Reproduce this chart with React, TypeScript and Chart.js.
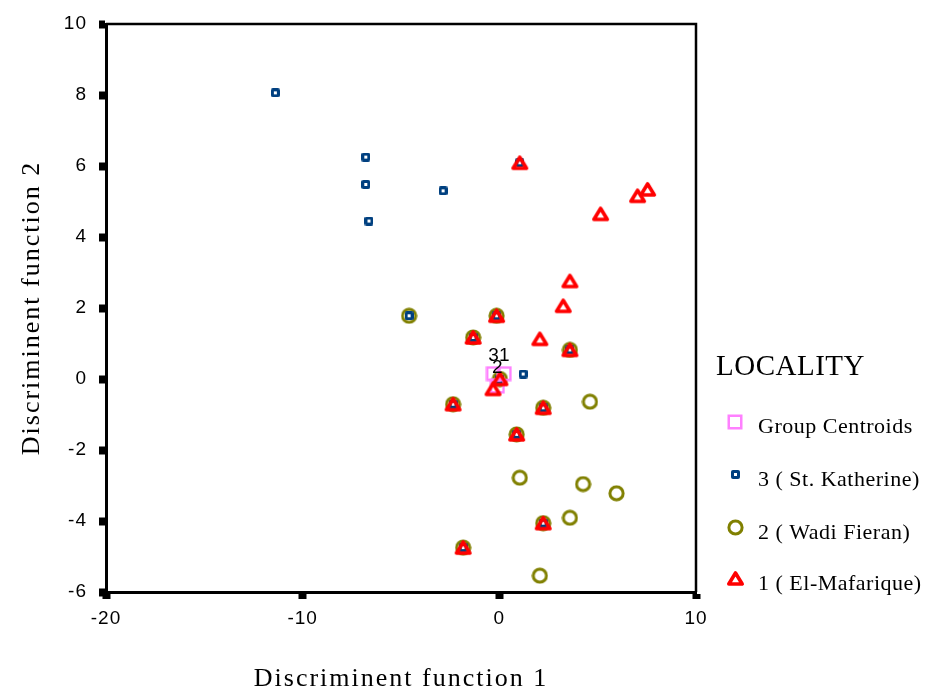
import React, { useEffect, useRef } from "react";
import { Chart, registerables } from "chart.js";

Chart.register(...registerables);

// ---- Data ----
const centroidX = [-0.3, -0.1, 0.25];
const centroidY = [0.15, -0.2, 0.15];
const centroidLabels = ["3", "2", "1"];

// 3 ( St. Katherine)
const g3X = [-11.39, -6.79, -6.79, -2.86, -6.63, -4.59, 1.21, 1.04, -0.14, -1.33, 3.59, 0.03, -2.35, 2.23, 0.88, 2.23, -1.84];
const g3Y = [8.06, 6.25, 5.48, 5.3, 4.45, 1.78, 0.14, 6.09, 1.78, 1.17, 0.82, 0.0, -0.71, -0.81, -1.56, -4.06, -4.75];

// 2 ( Wadi Fieran)
const g2X = [-4.59, -0.14, -1.33, 3.59, 0.03, -2.35, 2.23, 0.88, 2.23, -1.84, 4.61, 1.04, 4.26, 5.96, 3.59, 2.06];
const g2Y = [1.78, 1.78, 1.17, 0.82, 0.0, -0.71, -0.81, -1.56, -4.06, -4.75, -0.64, -2.78, -2.96, -3.22, -3.91, -5.54];

// 1 ( El-Mafarique)
const g1X = [-0.14, -1.33, 3.59, 0.03, -2.35, 2.23, 0.88, 2.23, -1.84, 1.04, 7.54, 7.03, 5.15, 3.59, 3.25, 2.06, -0.32];
const g1Y = [1.78, 1.17, 0.82, 0.0, -0.71, -0.81, -1.56, -4.06, -4.75, 6.09, 5.34, 5.16, 4.65, 2.76, 2.06, 1.13, -0.28];

const seriesLabels = ["Group Centroids", "3 ( St. Katherine)", "2 ( Wadi Fieran)", "1 ( El-Mafarique)"];
const legendTitle = "LOCALITY";
const xTitle = "Discriminent function 1";
const yTitle = "Discriminent function 2";
const xMin = -20, xMax = 10, xStep = 10;
const yMin = -6, yMax = 10, yStep = 2;

const toPoints = (xs: number[], ys: number[]) => xs.map((x, i) => ({ x, y: ys[i] }));

function makeMarker(kind: string): HTMLCanvasElement {
  const c = document.createElement("canvas");
  const ctx = c.getContext("2d")!;
  if (kind === "square") {
    c.width = 9; c.height = 9;
    ctx.fillStyle = "#004080";
    ctx.beginPath();
    (ctx as any).roundRect ? (ctx as any).roundRect(0, 0, 9, 9, 2) : ctx.rect(0, 0, 9, 9);
    ctx.fill();
    ctx.fillStyle = "#ffffff";
    ctx.fillRect(3, 3, 3, 3);
  } else if (kind === "circle") {
    c.width = 17; c.height = 17;
    ctx.strokeStyle = "#808000";
    ctx.lineWidth = 3;
    ctx.beginPath();
    ctx.arc(8.5, 8.5, 6.6, 0, Math.PI * 2);
    ctx.stroke();
  } else if (kind === "triangle") {
    c.width = 19; c.height = 17;
    ctx.strokeStyle = "#ff0000";
    ctx.lineWidth = 3.6;
    ctx.lineJoin = "round";
    ctx.beginPath();
    ctx.moveTo(9.5, 3);
    ctx.lineTo(16.2, 14);
    ctx.lineTo(2.8, 14);
    ctx.closePath();
    ctx.stroke();
  } else {
    c.width = 16; c.height = 16;
    ctx.strokeStyle = "#ff80ff";
    ctx.lineWidth = 2.5;
    ctx.strokeRect(1.75, 1.75, 12.5, 12.5);
  }
  return c;
}

export default function App() {
  const ref = useRef<HTMLCanvasElement | null>(null);

  useEffect(() => {
    const canvas = ref.current;
    if (!canvas) return;

    const markers = [makeMarker("centroid"), makeMarker("square"), makeMarker("circle"), makeMarker("triangle")];

    const textPlugin = {
      id: "textSpacing",
      beforeDraw(chart: any) {
        chart.ctx.letterSpacing = "2px";
      },
      beforeDatasetsDraw(chart: any) {
        chart.ctx.letterSpacing = "0px";
      },
      afterDatasetsDraw(chart: any) {
        const ctx = chart.ctx;
        const meta = chart.getDatasetMeta(0);
        ctx.save();
        ctx.fillStyle = "#000";
        ctx.font = '19px "Liberation Sans", Arial, sans-serif';
        ctx.textAlign = "center";
        ctx.textBaseline = "middle";
        meta.data.forEach((el: any, i: number) => {
          ctx.fillText(centroidLabels[i], el.x, el.y - 18);
        });
        ctx.restore();
        ctx.letterSpacing = "1px";
      },
      afterDraw(chart: any) {
        const ctx = chart.ctx;
        const a = chart.chartArea;
        ctx.letterSpacing = "0px";
        // frame (top & right)
        ctx.save();
        ctx.strokeStyle = "#000";
        ctx.lineWidth = 2.5;
        ctx.beginPath();
        ctx.moveTo(a.left, a.top);
        ctx.lineTo(a.right, a.top);
        ctx.lineTo(a.right, a.bottom);
        ctx.stroke();
        ctx.restore();

        // legend
        ctx.save();
        ctx.fillStyle = "#000";
        ctx.textAlign = "left";
        ctx.textBaseline = "alphabetic";
        ctx.letterSpacing = "0.5px";
        ctx.font = '29px "Liberation Serif", "Times New Roman", serif';
        ctx.fillText(legendTitle, 716, 375);
        ctx.letterSpacing = "0.5px";
        ctx.font = '22px "Liberation Serif", "Times New Roman", serif';
        const baselines = [433, 486, 539, 590];
        chart.data.datasets.forEach((ds: any, i: number) => {
          const m = ds.pointStyle as HTMLCanvasElement;
          const cy = baselines[i] - 11.5;
          ctx.drawImage(m, Math.round(735 - m.width / 2), Math.round(cy - m.height / 2));
          ctx.fillText(ds.label, 758, baselines[i]);
        });
        ctx.restore();
        ctx.letterSpacing = "0px";
      },
    };

    const tickFont = { family: '"Liberation Sans", Arial, sans-serif', size: 19 };
    const titleFont = { family: '"Liberation Serif", "Times New Roman", serif', size: 26, lineHeight: 1 };

    const chart = new Chart(canvas, {
      type: "scatter",
      data: {
        datasets: [
          { label: seriesLabels[0], data: toPoints(centroidX, centroidY), pointStyle: markers[0] as any, order: 1, pointRadius: 8 },
          { label: seriesLabels[1], data: toPoints(g3X, g3Y), pointStyle: markers[1] as any, order: 2, pointRadius: 5 },
          { label: seriesLabels[2], data: toPoints(g2X, g2Y), pointStyle: markers[2] as any, order: 3, pointRadius: 8 },
          { label: seriesLabels[3], data: toPoints(g1X, g1Y), pointStyle: markers[3] as any, order: 0, pointRadius: 8 },
        ],
      },
      options: {
        animation: false,
        responsive: false,
        maintainAspectRatio: false,
        layout: { padding: { left: 10, right: 231, top: 24, bottom: 0 } },
        plugins: { legend: { display: false }, tooltip: { enabled: false } },
        scales: {
          x: {
            type: "linear",
            position: "bottom",
            min: xMin,
            max: xMax,
            ticks: { stepSize: xStep, color: "#000", font: tickFont, padding: 8, z: 1 } as any,
            grid: { drawOnChartArea: false, drawTicks: true, tickLength: 7, tickWidth: 8, tickColor: "#000", color: "#000" } as any,
            border: { display: true, color: "#000", width: 3 },
            title: { display: true, text: xTitle, color: "#000", font: titleFont, padding: { top: 0, bottom: 1 } },
            afterFit: (s: any) => { s.height = 101; },
          },
          y: {
            type: "linear",
            position: "left",
            min: yMin,
            max: yMax,
            ticks: { stepSize: yStep, color: "#000", font: tickFont, padding: 12, z: 1 } as any,
            grid: { drawOnChartArea: false, drawTicks: true, tickLength: 7, tickWidth: 8, tickColor: "#000", color: "#000" } as any,
            border: { display: true, color: "#000", width: 3 },
            title: { display: true, text: yTitle, color: "#000", font: titleFont, padding: { top: 9, bottom: 0 } },
            afterFit: (s: any) => { s.width = 96; },
          },
        },
      } as any,
      plugins: [textPlugin],
    });

    return () => chart.destroy();
  }, []);

  return (
    <div style={{ position: "fixed", left: 0, top: 0, width: 927, height: 693, background: "#fff" }}>
      <canvas ref={ref} width={927} height={693} style={{ display: "block", width: 927, height: 693 }} />
    </div>
  );
}
